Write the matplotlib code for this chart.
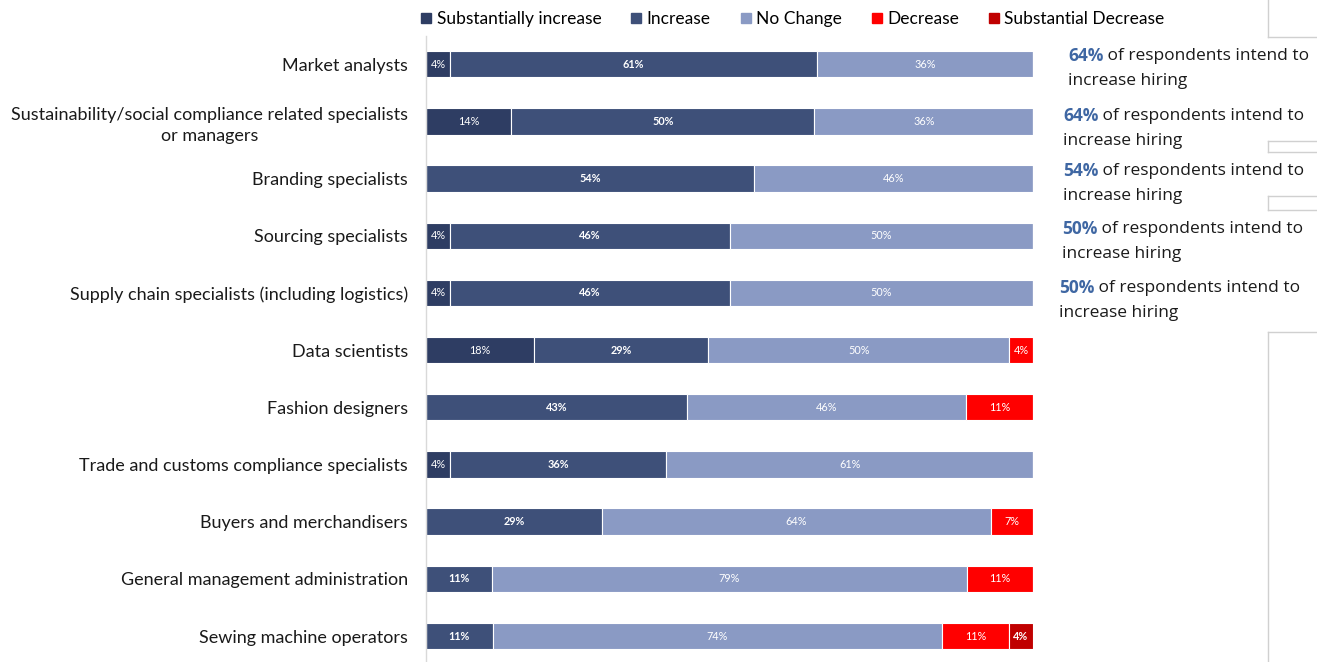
import matplotlib
matplotlib.use("Agg")
import matplotlib.pyplot as plt
from matplotlib.lines import Line2D
import numpy as np

categories = [
    "Market analysts",
    "Sustainability/social compliance related specialists\nor managers",
    "Branding specialists",
    "Sourcing specialists",
    "Supply chain specialists (including logistics)",
    "Data scientists",
    "Fashion designers",
    "Trade and customs compliance specialists",
    "Buyers and merchandisers",
    "General management administration",
    "Sewing machine operators",
]
series_names = ["Substantially increase", "Increase", "No Change", "Decrease", "Substantial Decrease"]
sub_increase = [4, 14, 0, 4, 4, 18, 0, 4, 0, 0, 0]
increase = [61, 50, 54, 46, 46, 29, 43, 36, 29, 11, 11]
no_change = [36, 36, 46, 50, 50, 50, 46, 61, 64, 79, 74]
decrease = [0, 0, 0, 0, 0, 4, 11, 0, 7, 11, 11]
sub_decrease = [0, 0, 0, 0, 0, 0, 0, 0, 0, 0, 4]
colors = ["#2E3D63", "#3E5079", "#8A9AC4", "#FF0000", "#C00000"]
bold_series = [False, True, False, False, True]

ann_pcts = ["64%", "64%", "54%", "50%", "50%"]
ann_text = " of respondents intend to"
ann_text2 = "increase hiring"

W, H = 1317, 662
fig = plt.figure(figsize=(W / 100, H / 100), dpi=100)
plt.rcParams["font.family"] = ["Lato", "DejaVu Sans"]

ax = fig.add_axes([426 / W, (H - 664.6) / H, 607 / W, 629 / H])
data = np.array([sub_increase, increase, no_change, decrease, sub_decrease], dtype=float)
totals = data.sum(axis=0)
norm = data / totals * 100
y = np.arange(len(categories))
left = np.zeros(len(categories))
for i, name in enumerate(series_names):
    ax.barh(y, norm[i], left=left, height=0.46, color=colors[i],
            edgecolor="white", linewidth=0.8, label=name)
    for j in range(len(categories)):
        if data[i, j] > 0:
            ax.text(left[j] + norm[i, j] / 2, y[j], f"{int(data[i, j])}%",
                    ha="center", va="center", color="white", fontsize=7.8,
                    fontweight="bold" if bold_series[i] else "normal")
    left += norm[i]

ax.set_xlim(0, 100)
ax.set_ylim(len(categories) - 0.5, -0.5)
ax.set_yticks(y)
ax.set_yticklabels(categories, fontsize=13.0, color="#1a1a1a",
                   multialignment="center", linespacing=1.4)
ax.tick_params(axis="y", length=0, pad=13)
ax.set_xticks([])
for s in ["top", "right", "bottom"]:
    ax.spines[s].set_visible(False)
ax.spines["left"].set_color("#D9D9D9")
ax.spines["left"].set_linewidth(1)

handles = [Line2D([0], [0], marker="s", linestyle="none", markersize=7,
                  markerfacecolor=c, markeredgecolor=c) for c in colors]
fig.legend(handles, series_names, loc="center", bbox_to_anchor=(791 / W, 1 - 19 / H),
           ncol=5, frameon=False, fontsize=12.5, handletextpad=0.1,
           columnspacing=1.5, handlelength=1.0)

# right-side annotations
ann_pos = [(1068, 56), (1063, 116), (1063, 171), (1062, 229), (1059, 288)]
for (px, py), pct in zip(ann_pos, ann_pcts):
    t = fig.text(px / W, 1 - py / H, pct, fontsize=12.5, fontweight="bold",
                 color="#3F67A3", ha="left", va="center", family=["Open Sans", "DejaVu Sans"])
    ax.annotate(ann_text, xy=(1, 0.5), xycoords=t, ha="left", va="center",
                fontsize=12.5, color="#1a1a1a", family=["Open Sans", "DejaVu Sans"],
                annotation_clip=False)
    fig.text(px / W, 1 - (py + 25) / H, ann_text2, fontsize=12.5, color="#1a1a1a",
             ha="left", va="center", family=["Open Sans", "DejaVu Sans"])

# faint text-box borders at right edge
gray = "#D0D0D0"
def fline(x0, y0, x1, y1):
    fig.add_artist(Line2D([x0 / W, x1 / W], [1 - y0 / H, 1 - y1 / H], color=gray, lw=1))
fline(1268, 0, 1268, 37); fline(1268, 37, W, 37)
fline(1268, 141, W, 141); fline(1268, 141, 1268, 152); fline(1268, 152, W, 152)
fline(1268, 196, W, 196); fline(1268, 196, 1268, 210); fline(1268, 210, W, 210)
fline(1268, 332, W, 332); fline(1268, 332, 1268, H)

fig.savefig("out.png", dpi=100)
